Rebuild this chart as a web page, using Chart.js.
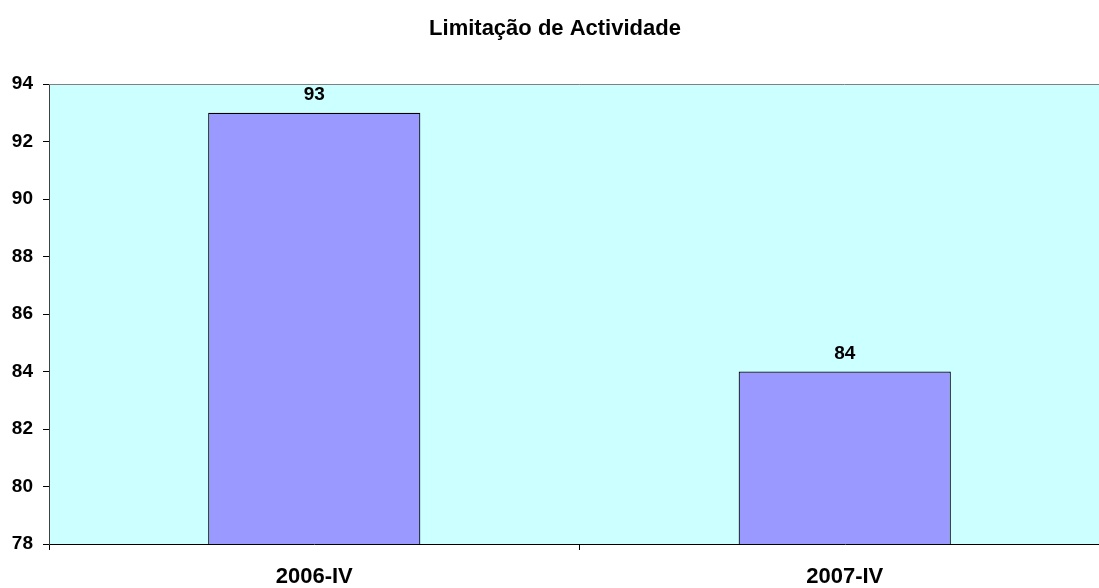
<!DOCTYPE html>
<html>
<head>
<meta charset="utf-8">
<script src="https://cdn.jsdelivr.net/npm/chart.js@4/dist/chart.umd.min.js"></script>
<style>
  html, body { margin: 0; padding: 0; background: #fff; overflow: hidden; }
  #wrap { position: relative; width: 1112px; height: 588px; }
</style>
</head>
<body>
<div id="wrap"><canvas id="chart"></canvas></div>
<script>
const categories = ["2006-IV", "2007-IV"];
const values = [93, 84];
const yTicks = { min: 78, max: 94, step: 2 };
const chartTitle = "Limitação de Actividade";

const FONT = "'Liberation Sans', Arial, sans-serif";

// plot area fill + grey frame like the spreadsheet chart
const plotArea = {
  id: "plotArea",
  beforeDraw(chart) {
    const { ctx, chartArea: a } = chart;
    ctx.save();
    ctx.fillStyle = "#CCFFFF";
    ctx.fillRect(a.left, a.top, a.right - a.left, a.bottom - a.top);
    ctx.restore();
  },
  afterDraw(chart) {
    const { ctx, chartArea: a } = chart;
    ctx.save();
    ctx.strokeStyle = "#808080";
    ctx.lineWidth = 1;
    ctx.beginPath();
    ctx.moveTo(a.left, a.top + 0.5);
    ctx.lineTo(a.right - 0.5, a.top + 0.5);
    ctx.lineTo(a.right - 0.5, a.bottom);
    ctx.stroke();
    ctx.restore();
  }
};

// value labels above the bars
const valueLabels = {
  id: "valueLabels",
  afterDatasetsDraw(chart) {
    const { ctx } = chart;
    const meta = chart.getDatasetMeta(0);
    ctx.save();
    ctx.font = "bold 19px " + FONT;
    ctx.fillStyle = "#000";
    ctx.textAlign = "center";
    ctx.textBaseline = "alphabetic";
    meta.data.forEach((bar, i) => {
      ctx.fillText(String(values[i]), bar.x, bar.y - 12.5);
    });
    ctx.restore();
  }
};

new Chart(document.getElementById("chart"), {
  type: "bar",
  data: {
    labels: categories,
    datasets: [{
      data: values,
      backgroundColor: "#9999FF",
      borderColor: "#000000",
      borderWidth: 1.2,
      barPercentage: 0.4,
      categoryPercentage: 1.0
    }]
  },
  options: {
    responsive: true,
    maintainAspectRatio: false,
    animation: false,
    layout: { padding: { left: 0, right: 2, top: 0, bottom: 0 } },
    plugins: {
      legend: { display: false },
      tooltip: { enabled: false },
      title: {
        display: true,
        text: chartTitle,
        color: "#000",
        font: { family: FONT, size: 22, weight: "bold" },
        padding: { top: 16, bottom: 41.6 }
      }
    },
    scales: {
      x: {
        grid: {
          offset: true,
          drawOnChartArea: false,
          drawTicks: true,
          tickLength: 6,
          color: "#000"
        },
        border: { display: true, color: "#000", width: 1 },
        ticks: {
          color: "#000",
          font: { family: FONT, size: 22, weight: "bold" },
          padding: 14,
          maxRotation: 0
        },
        afterFit(scale) { scale.height = 44; }
      },
      y: {
        min: yTicks.min,
        max: yTicks.max,
        grid: {
          drawOnChartArea: false,
          drawTicks: true,
          tickLength: 6,
          color: "#000"
        },
        border: { display: true, color: "#404040", width: 1 },
        ticks: {
          stepSize: yTicks.step,
          color: "#000",
          font: { family: FONT, size: 19, weight: "bold" },
          padding: 10
        },
        afterFit(scale) { scale.width = 49; }
      }
    }
  },
  plugins: [plotArea, valueLabels]
});
</script>
</body>
</html>
